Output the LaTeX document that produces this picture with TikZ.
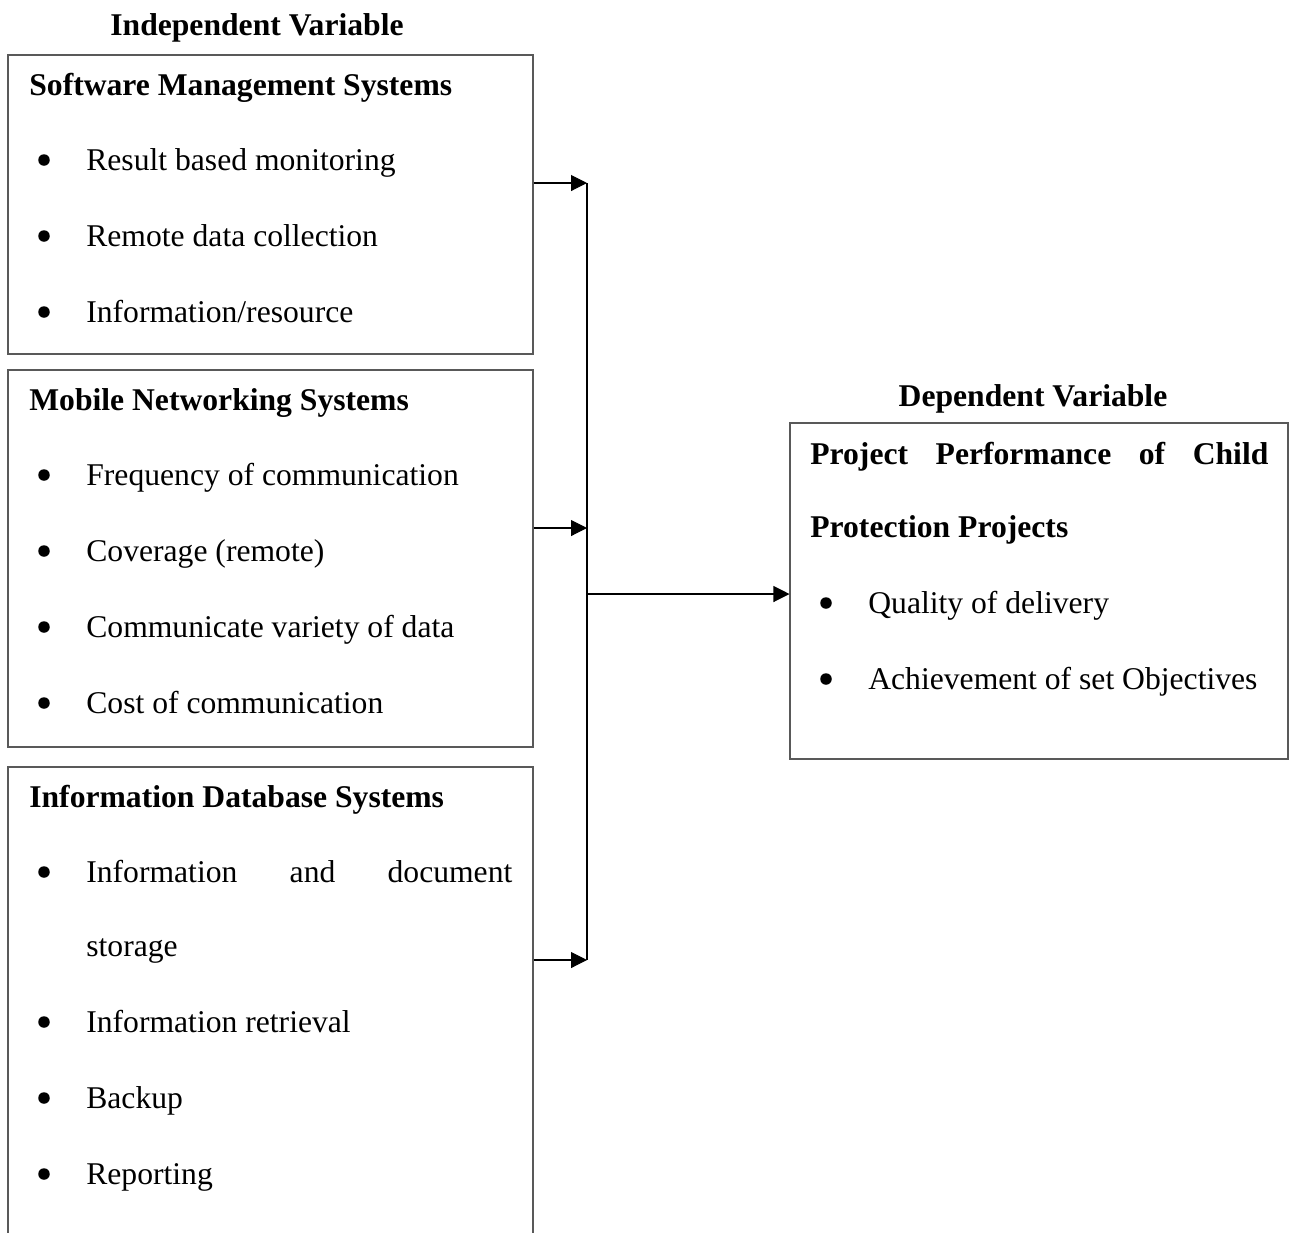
\documentclass[tikz,border=0pt]{standalone}
\usepackage{fontspec}
\setmainfont{Liberation Serif}
\usepackage{tikz}
\usetikzlibrary{arrows.meta,positioning}

\begin{document}
\begin{tikzpicture}[>={Triangle[length=0.32cm,width=0.32cm]},
  every node/.style={font=\fontsize{18}{22}\selectfont,inner sep=0pt},
  varbox/.style={draw=black!65,line width=0.6pt,rectangle},
  title/.style={anchor=base,font=\fontsize{18}{22}\selectfont\bfseries},
  head/.style={anchor=base west,font=\fontsize{18}{22}\selectfont\bfseries},
  itm/.style={anchor=base west},
  dot/.style={circle,fill=black,minimum size=0.23cm},
  link/.style={line width=0.6pt,draw=black}]
\useasboundingbox (0,0) rectangle (25.80,-24.64);
% titles
\node[title] (indep) at (5.14,-0.70) {Independent Variable};
\node[title] (dep) at (20.66,-8.12) {Dependent Variable};
% boxes
\node[varbox,minimum width=10.50cm,minimum height=5.98cm] (sms) at (5.41,-4.09) {};
\node[varbox,minimum width=10.50cm,minimum height=7.54cm] (mns) at (5.41,-11.17) {};
\node[varbox,minimum width=10.50cm,minimum height=9.86cm] (ids) at (5.41,-20.27) {};
\node[varbox,minimum width=9.96cm,minimum height=6.72cm] (ppb) at (20.78,-11.82) {};
% software management systems
\node[head] (sms_h) at (0.58,-1.90) {Software Management Systems};
\node[dot] (sms_d1) at (0.88,-3.20) {};
\node[itm] (sms_1) at (1.72,-3.40) {Result based monitoring};
\node[dot] (sms_d2) at (0.88,-4.72) {};
\node[itm] (sms_2) at (1.72,-4.92) {Remote data collection};
\node[dot] (sms_d3) at (0.88,-6.24) {};
\node[itm] (sms_3) at (1.72,-6.44) {Information/resource};
% mobile networking systems
\node[head] (mns_h) at (0.58,-8.20) {Mobile Networking Systems};
\node[dot] (mns_d1) at (0.88,-9.50) {};
\node[itm] (mns_1) at (1.72,-9.70) {Frequency of communication};
\node[dot] (mns_d2) at (0.88,-11.02) {};
\node[itm] (mns_2) at (1.72,-11.22) {Coverage (remote)};
\node[dot] (mns_d3) at (0.88,-12.54) {};
\node[itm] (mns_3) at (1.72,-12.74) {Communicate variety of data};
\node[dot] (mns_d4) at (0.88,-14.06) {};
\node[itm] (mns_4) at (1.72,-14.26) {Cost of communication};
% information database systems
\node[head] (ids_h) at (0.58,-16.14) {Information Database Systems};
\node[dot] (ids_d1) at (0.88,-17.44) {};
\node[itm] (ids_1) at (1.72,-17.64) {\makebox[8.52cm][s]{Information and document}};
\node[itm] (ids_1b) at (1.72,-19.12) {storage};
\node[dot] (ids_d2) at (0.88,-20.44) {};
\node[itm] (ids_2) at (1.72,-20.64) {Information retrieval};
\node[dot] (ids_d3) at (0.88,-21.96) {};
\node[itm] (ids_3) at (1.72,-22.16) {Backup};
\node[dot] (ids_d4) at (0.88,-23.48) {};
\node[itm] (ids_4) at (1.72,-23.68) {Reporting};
% project performance
\node[head] (ppb_h) at (16.20,-9.28) {\makebox[9.16cm][s]{Project Performance of Child}};
\node[head] (ppb_hb) at (16.20,-10.74) {Protection Projects};
\node[dot] (ppb_d1) at (16.52,-12.06) {};
\node[itm] (ppb_1) at (17.36,-12.26) {Quality of delivery};
\node[dot] (ppb_d2) at (16.52,-13.58) {};
\node[itm] (ppb_2) at (17.36,-13.78) {Achievement of set Objectives};
% connectors
\coordinate (j1) at (11.74,-3.66);
\coordinate (j2) at (11.74,-10.56);
\coordinate (j3) at (11.74,-19.20);
\coordinate (jm) at (11.74,-11.88);
\draw[link,->] (sms.east |- j1) -- (j1);
\draw[link,->] (mns.east |- j2) -- (j2);
\draw[link,->] (ids.east |- j3) -- (j3);
\draw[link] (j1) -- (j3);
\draw[link,->] (jm) -- (ppb.west |- jm);
\end{tikzpicture}
\end{document}
